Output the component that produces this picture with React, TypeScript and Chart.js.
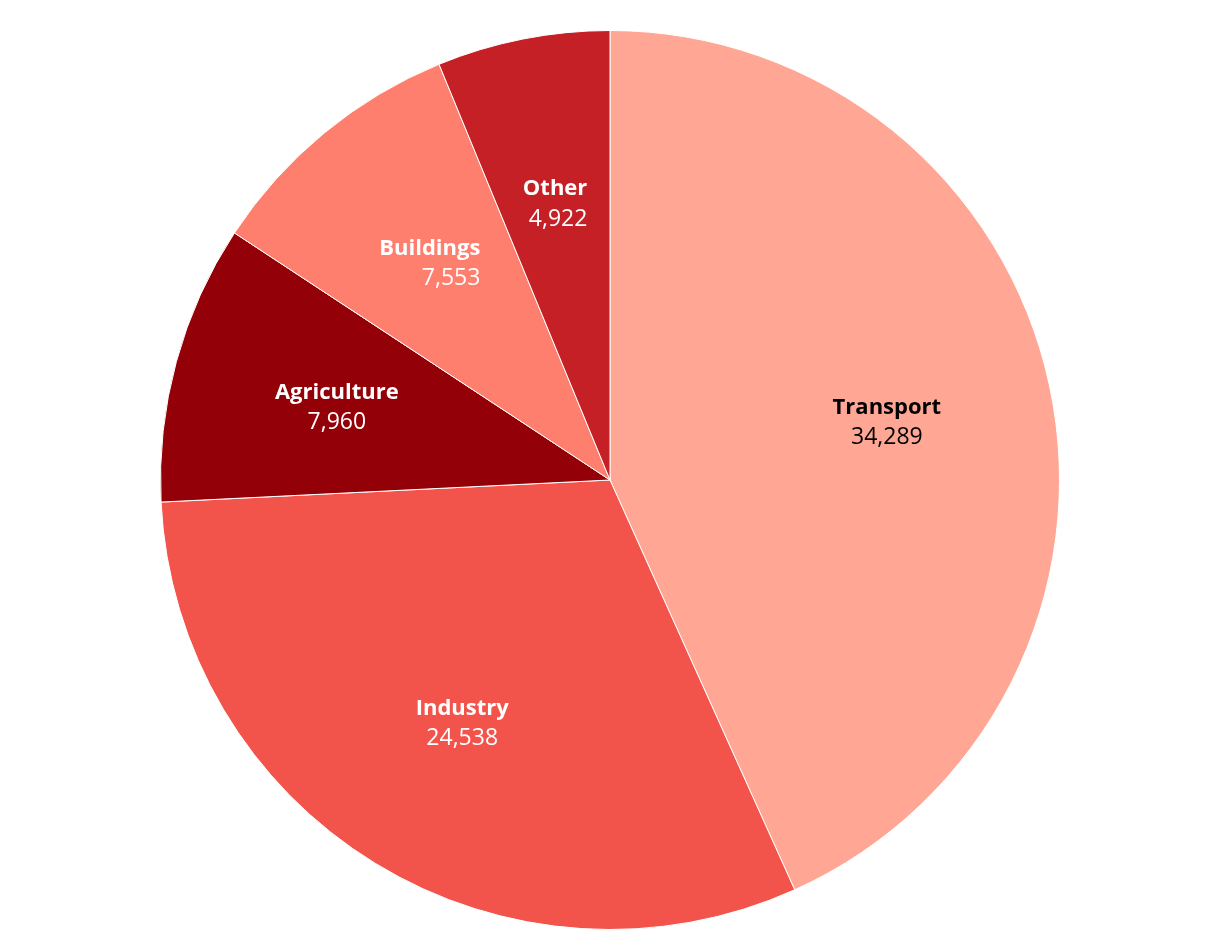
import React, { useEffect, useRef } from "react";
import { Chart, registerables } from "chart.js";

Chart.register(...registerables);

const categories = ["Transport", "Industry", "Agriculture", "Buildings", "Other"];
const values = [34289, 24538, 7960, 7553, 4922];
const colors = ["#FFA794", "#F2544B", "#940007", "#FF7F6E", "#C42026"];
const labelColors = ["#000000", "#FFFFFF", "#FFFFFF", "#FFFFFF", "#FFFFFF"];
const labelAligns = ["center", "center", "center", "right", "right"];

const FONT = '"Open Sans", "Noto Sans", sans-serif';
const NAME_FONT = `bold 22px ${FONT}`;
const VALUE_FONT = `23px ${FONT}`;

const labelPlugin = {
  id: "sliceLabels",
  afterDatasetsDraw(chart: any) {
    const ctx = chart.ctx;
    const meta = chart.getDatasetMeta(0);
    meta.data.forEach((arc: any, i: number) => {
      const { x, y, startAngle, endAngle, outerRadius } = arc.getProps(
        ["x", "y", "startAngle", "endAngle", "outerRadius"],
        true
      );
      const mid = (startAngle + endAngle) / 2;
      const r = outerRadius * 0.63;
      const cx = x + Math.cos(mid) * r;
      const cy = y + Math.sin(mid) * r + 2;
      const name = categories[i];
      const val = values[i].toLocaleString("en-US");
      ctx.save();
      ctx.fillStyle = labelColors[i];
      ctx.textBaseline = "middle";
      ctx.font = NAME_FONT;
      const w1 = ctx.measureText(name).width;
      ctx.font = VALUE_FONT;
      const w2 = ctx.measureText(val).width;
      const bw = Math.max(w1, w2);
      let ax = cx;
      if (labelAligns[i] === "right") {
        ctx.textAlign = "right";
        ax = cx + bw / 2;
      } else {
        ctx.textAlign = "center";
      }
      ctx.font = NAME_FONT;
      ctx.fillText(name, ax, cy - 15);
      ctx.font = VALUE_FONT;
      ctx.fillText(val, ax, cy + 15);
      ctx.restore();
    });
  },
};

export default function App() {
  const ref = useRef<HTMLCanvasElement | null>(null);
  useEffect(() => {
    if (!ref.current) return;
    const chart = new Chart(ref.current, {
      type: "pie",
      data: {
        labels: categories,
        datasets: [
          {
            data: values,
            backgroundColor: colors,
            borderColor: "#FFFFFF",
            borderWidth: 1,
          },
        ],
      },
      options: {
        animation: false,
        responsive: true,
        maintainAspectRatio: false,
        layout: { padding: { top: 30, bottom: 10, left: 0, right: 0 } },
        plugins: {
          legend: { display: false },
          tooltip: { enabled: false },
        },
      },
      plugins: [labelPlugin],
    });
    return () => chart.destroy();
  }, []);
  return (
    <div
      style={{
        position: "absolute",
        left: 0,
        top: 0,
        width: 1220,
        height: 940,
        background: "#FFFFFF",
      }}
    >
      <canvas ref={ref} />
    </div>
  );
}
